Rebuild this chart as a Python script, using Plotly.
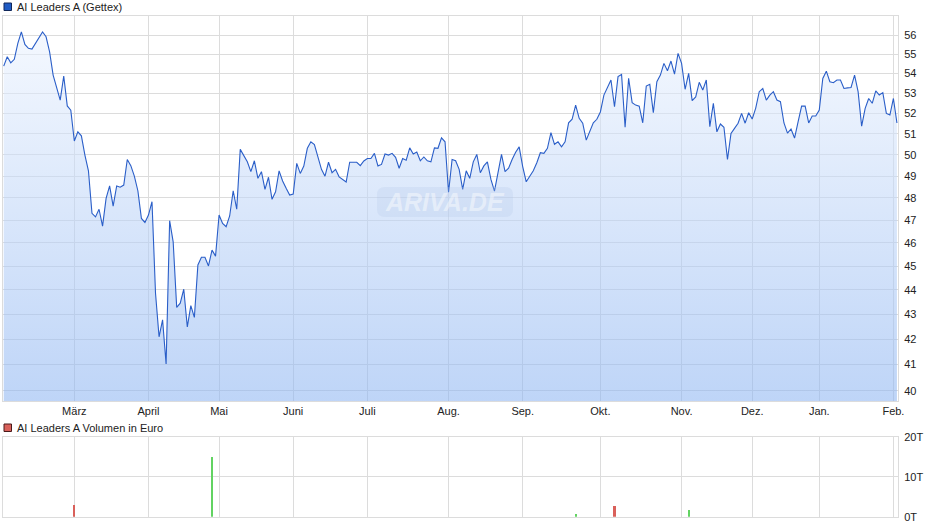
import math
import pandas as pd
import plotly.graph_objects as go

# ---------------- data ----------------
holidays = ["2025-04-18", "2025-04-21", "2025-05-01", "2025-12-24",
            "2025-12-25", "2025-12-26", "2025-12-31", "2026-01-01"]
dates = [d for d in pd.bdate_range("2025-02-03", "2026-02-03")
         if d.strftime("%Y-%m-%d") not in holidays]

prices = [
    54.38, 54.86, 54.55, 54.73, 55.56, 56.17, 55.51, 55.30, 55.26, 55.56,
    55.83, 56.17, 55.91, 55.12, 53.92, 53.30, 52.66, 53.87, 52.37, 52.16,
    50.66, 51.10, 50.91, 49.99, 49.25, 47.31, 47.15, 47.49, 46.74, 47.98,
    48.55, 47.63, 48.55, 48.49, 48.59, 49.78, 49.49, 49.00, 48.33, 47.08,
    46.90, 47.23, 47.83, 43.86, 42.09, 42.77, 41.02, 46.98, 46.05, 43.28,
    43.45, 44.03, 42.49, 43.35, 42.87, 45.05, 45.38, 45.38, 45.01, 45.69,
    45.43, 47.23, 46.86, 46.71, 47.19, 48.33, 47.49, 50.26, 49.99, 49.67,
    49.21, 49.72, 48.90, 49.21, 48.39, 48.95, 47.94, 48.28, 49.25, 48.78,
    48.44, 48.13, 48.18, 49.60, 49.13, 49.47, 50.31, 50.62, 50.49, 49.90,
    49.32, 49.00, 49.65, 49.16, 49.32, 48.97, 48.85, 48.73, 49.65, 49.65,
    49.65, 49.49, 49.71, 49.83, 49.83, 50.07, 49.48, 49.55, 50.04, 49.99,
    50.07, 49.88, 49.37, 49.83, 49.75, 50.33, 50.04, 50.13, 49.72, 49.90,
    49.72, 49.67, 50.33, 50.31, 50.81, 50.62, 48.26, 49.78, 49.72, 49.32,
    48.39, 49.25, 48.90, 49.67, 50.02, 49.16, 49.48, 49.67, 48.85, 48.31,
    49.16, 50.02, 49.21, 49.37, 49.78, 50.12, 50.38, 49.45, 48.74, 48.97,
    49.25, 49.63, 50.10, 50.07, 50.31, 51.06, 50.50, 50.62, 50.38, 50.62,
    51.54, 51.72, 52.41, 51.76, 51.52, 50.70, 51.15, 51.54, 51.71, 52.07,
    52.91, 53.25, 53.67, 52.33, 53.84, 53.95, 51.32, 53.75, 52.53, 52.41,
    52.36, 51.54, 53.36, 53.45, 52.03, 53.58, 53.92, 54.52, 54.14, 54.64,
    53.97, 55.04, 54.52, 53.20, 54.01, 52.63, 52.82, 53.55, 53.16, 53.67,
    51.35, 52.50, 51.10, 51.48, 51.32, 49.78, 51.02, 51.27, 51.52, 52.00,
    51.52, 52.03, 51.72, 52.26, 53.08, 53.24, 52.66, 52.91, 53.08, 52.66,
    52.58, 51.53, 51.04, 51.24, 50.80, 51.58, 52.36, 52.36, 51.53, 51.87,
    51.87, 52.16, 53.75, 54.12, 53.58, 53.53, 53.67, 53.67, 53.24, 53.27,
    53.29, 53.92, 53.08, 51.38, 52.25, 52.74, 52.50, 53.12, 52.91, 53.03,
    52.00, 51.92, 52.74, 51.53,
]

vol_dates = ["2025-03-03", "2025-04-29", "2025-09-22", "2025-10-07", "2025-11-05"]
vol_values = [2960, 15000, 680, 2700, 1700]

month_labels = ["März", "April", "Mai", "Juni", "Juli", "Aug.", "Sep.",
                "Okt.", "Nov.", "Dez.", "Jan.", "Feb."]
price_ticks = list(range(40, 57))
vol_ticks = [0, 10000, 20000]
vol_tick_labels = ["0T", "10T", "20T"]

# ---------------- derived ----------------
W, H = 940, 526
n = len(dates)
idx = list(range(n))
date_str = [d.strftime("%Y-%m-%d") for d in dates]

month_start = []
for i, d in enumerate(dates):
    if i > 0 and d.month != dates[i - 1].month:
        month_start.append(i)

vol_x = [date_str.index(d) for d in vol_dates]
vol_colors = ["#62d362" if prices[i] >= prices[i - 1] else "#d9605a" for i in vol_x]


def px_x(p):
    return p / W


def px_y(p):
    return 1 - p / H


x_left, x_right = 3, 898
xrange_ = [-0.2, 253.3]

GRID = "#dcdcdc"
FONT = "Liberation Sans, Arial, sans-serif"

fig = go.Figure()

# baseline for filling
fig.add_trace(go.Scatter(x=idx, y=[39.0] * n, mode="lines",
                         line=dict(width=0, color="rgba(0,0,0,0)"),
                         hoverinfo="skip", showlegend=False,
                         xaxis="x", yaxis="y"))
fig.add_trace(go.Scatter(
    x=idx, y=prices, mode="lines",
    line=dict(color="#2a5ec8", width=1.1),
    fill="tonexty",
    fillgradient=dict(type="vertical",
                      colorscale=[[0, "rgba(137,178,241,0.57)"],
                                  [1, "rgba(236,243,254,0.57)"]]),
    showlegend=False, xaxis="x", yaxis="y"))

fig.add_trace(go.Bar(x=vol_x, y=vol_values, marker=dict(color=vol_colors, line=dict(width=0)),
                     width=0.6, showlegend=False, xaxis="x2", yaxis="y2"))

main_dom = [px_y(401), px_y(16)]
vol_dom = [px_y(516.7), px_y(437)]
xdom = [px_x(x_left), px_x(x_right)]

common_axis = dict(showgrid=True, gridcolor=GRID, gridwidth=1,
                   showline=True, linecolor=GRID, linewidth=1, mirror=True,
                   zeroline=False, automargin=False)

fig.update_layout(
    template="none",
    width=W, height=H,
    margin=dict(l=0, r=0, t=0, b=0, pad=0, autoexpand=False),
    paper_bgcolor="white", plot_bgcolor="white",
    font=dict(family=FONT, size=11, color="#222"),
    bargap=0,
    showlegend=False,
    xaxis=dict(domain=xdom, range=xrange_, tickmode="array",
               tickvals=month_start, ticktext=month_labels,
               ticks="", tickfont=dict(size=11, color="#222"),
               anchor="y", **common_axis),
    yaxis=dict(domain=main_dom, type="log",
               range=[math.log10(39.61), math.log10(57.02)],
               side="right", tickmode="array", tickvals=price_ticks,
               ticktext=[str(v) for v in price_ticks],
               ticks="outside", ticklen=3, tickcolor="rgba(0,0,0,0)",
               tickfont=dict(size=11, color="#222"), anchor="x", **common_axis),
    xaxis2=dict(domain=xdom, range=xrange_, tickmode="array",
                tickvals=month_start, showticklabels=False,
                ticks="", anchor="y2", **common_axis),
    yaxis2=dict(domain=vol_dom, range=[0, 20000], side="right",
                tickmode="array", tickvals=vol_ticks, ticktext=vol_tick_labels,
                ticks="outside", ticklen=3, tickcolor="rgba(0,0,0,0)",
                tickfont=dict(size=11, color="#222"), anchor="x2", **common_axis),
)

shapes = []
annotations = []
# legend squares
shapes.append(dict(type="rect", xref="paper", yref="paper",
                   x0=px_x(4), x1=px_x(11.5), y0=px_y(10.5), y1=px_y(3),
                   fillcolor="#1f5bc4", line=dict(color="#10275a", width=1)))
annotations.append(dict(xref="paper", yref="paper", x=px_x(15), y=px_y(6.5),
                        text="AI Leaders A (Gettex)", showarrow=False,
                        xanchor="left", yanchor="middle",
                        font=dict(size=11, color="#222", family=FONT)))
shapes.append(dict(type="rect", xref="paper", yref="paper",
                   x0=px_x(4), x1=px_x(11.5), y0=px_y(431.5), y1=px_y(424),
                   fillcolor="#d9605a", line=dict(color="#4a1a1a", width=1)))
annotations.append(dict(xref="paper", yref="paper", x=px_x(15), y=px_y(427.5),
                        text="AI Leaders A Volumen in Euro", showarrow=False,
                        xanchor="left", yanchor="middle",
                        font=dict(size=11, color="#222", family=FONT)))

# watermark (rounded box + text)
x0, x1, y0, y1, r = 377, 513, 187, 217, 8
path = (f"M {px_x(x0 + r)},{px_y(y0)} L {px_x(x1 - r)},{px_y(y0)} "
        f"Q {px_x(x1)},{px_y(y0)} {px_x(x1)},{px_y(y0 + r)} "
        f"L {px_x(x1)},{px_y(y1 - r)} Q {px_x(x1)},{px_y(y1)} {px_x(x1 - r)},{px_y(y1)} "
        f"L {px_x(x0 + r)},{px_y(y1)} Q {px_x(x0)},{px_y(y1)} {px_x(x0)},{px_y(y1 - r)} "
        f"L {px_x(x0)},{px_y(y0 + r)} Q {px_x(x0)},{px_y(y0)} {px_x(x0 + r)},{px_y(y0)} Z")
shapes.append(dict(type="path", xref="paper", yref="paper", path=path,
                   fillcolor="rgba(180,198,230,0.25)", line=dict(width=0)))
annotations.append(dict(xref="paper", yref="paper", x=px_x(445), y=px_y(202),
                        text="<b><i>ARIVA.DE</i></b>", showarrow=False,
                        xanchor="center", yanchor="middle",
                        font=dict(size=25, color="rgba(255,255,255,0.45)",
                                  family="Liberation Sans, Arial, sans-serif")))

fig.update_layout(shapes=shapes, annotations=annotations)

fig.write_html("out.html", config={"displayModeBar": False},
               post_script="document.body.style.margin='0';document.body.style.overflow='hidden';")
